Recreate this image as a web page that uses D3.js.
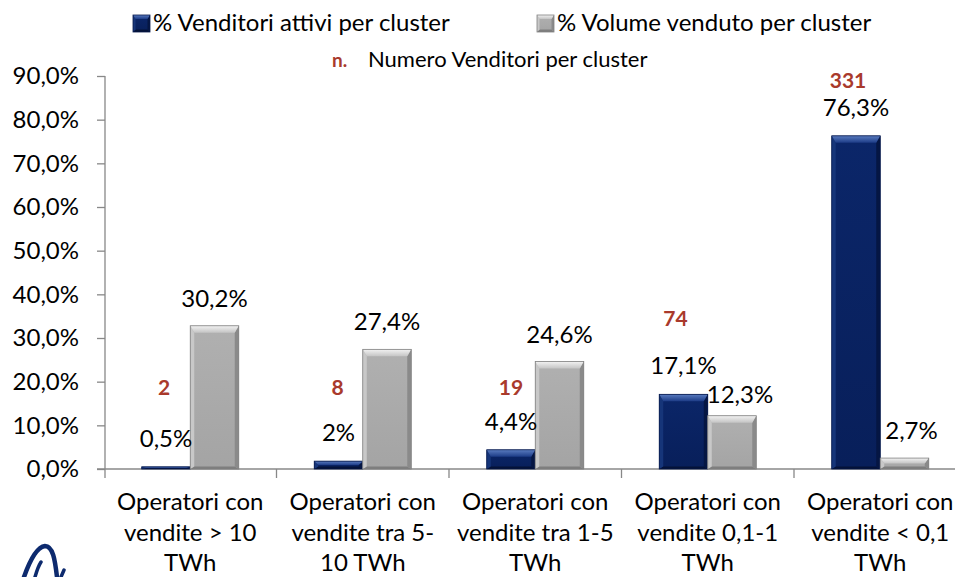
<!DOCTYPE html>
<html><head><meta charset="utf-8">
<script src="https://cdn.jsdelivr.net/npm/d3@7"></script>
<style>
html,body{margin:0;padding:0;background:#fff;}
svg{display:block;}
text{font-family:Lato, Carlito, Calibri, sans-serif;}
</style></head>
<body>
<svg id="chart" width="955" height="577"></svg>
<script>
// ---------- DATA ----------
const categoryLines = [
  ["Operatori con", "vendite > 10", "TWh"],
  ["Operatori con", "vendite tra 5-", "10 TWh"],
  ["Operatori con", "vendite tra 1-5", "TWh"],
  ["Operatori con", "vendite 0,1-1", "TWh"],
  ["Operatori con", "vendite < 0,1", "TWh"]
];
const seriesNames = ["% Venditori attivi per cluster", "% Volume venduto per cluster"];
const sellersShare = [0.5, 1.8, 4.4, 17.1, 76.3];      // bar heights (%)
const volumeShare  = [32.8, 27.4, 24.6, 12.2, 2.5];    // bar heights (%)
const sellersLabels = ["0,5%", "2%", "4,4%", "17,1%", "76,3%"];
const volumeLabels  = ["30,2%", "27,4%", "24,6%", "12,3%", "2,7%"];
const sellerCounts  = [2, 8, 19, 74, 331];
const yTicks = [0, 10, 20, 30, 40, 50, 60, 70, 80, 90];
const countNote = "Numero Venditori per cluster";

// ---------- LAYOUT ----------
const svg = d3.select("#chart");
const cats = categoryLines.map((d, i) => "c" + i);
const keys = ["sellers", "volume"];
const x0 = d3.scaleBand().domain(cats).range([104, 104 + 5 * 172.5]).paddingInner(0).paddingOuter(0);
const x1 = d3.scaleBand().domain(keys).range([0, x0.bandwidth()]).paddingInner(0).paddingOuter(0.778);
const y = d3.scaleLinear().domain([0, 90]).range([469, 76]);

const axisColor = "#888888";
const fmt = v => d3.format(".1f")(v).replace(".", ",") + "%";

// y axis
const yAxis = svg.append("g").attr("transform", "translate(105,0)")
  .call(d3.axisLeft(y).tickValues(yTicks).tickFormat(fmt).tickSize(8).tickPadding(18));
yAxis.select(".domain").attr("stroke", axisColor).attr("stroke-width", 1.3)
  .attr("d", `M0,${y(90)}V${y(0) + 9}`);
yAxis.selectAll(".tick line").attr("stroke", axisColor).attr("stroke-width", 1.3);
yAxis.selectAll(".tick text").attr("font-size", 24).attr("fill", "#000")
  .attr("font-family", "Lato, Carlito, Calibri, sans-serif");

// x axis (line + boundary ticks)
const xAxisG = svg.append("g");
xAxisG.append("line").attr("x1", 97).attr("x2", x0.range()[1])
  .attr("y1", y(0)).attr("y2", y(0)).attr("stroke", axisColor).attr("stroke-width", 1.3);
const bounds = cats.slice(1).map(c => x0(c));
xAxisG.selectAll("line.bt").data(bounds).enter().append("line").attr("class", "bt")
  .attr("x1", d => d).attr("x2", d => d).attr("y1", y(0)).attr("y2", y(0) + 9)
  .attr("stroke", axisColor).attr("stroke-width", 1.3);

// category labels
const catG = svg.append("g");
categoryLines.forEach((lines, i) => {
  const t = catG.append("text").attr("text-anchor", "middle").attr("font-size", 24).attr("fill", "#000");
  lines.forEach((ln, j) => {
    t.append("tspan").attr("x", x0(cats[i]) + x0.bandwidth() / 2).attr("y", 510 + j * 30.5).text(ln);
  });
});

// ---------- BEVEL BARS ----------
const defs = svg.append("defs");
function grad(id, c1, c2) {
  const g = defs.append("linearGradient").attr("id", id).attr("x1", 0).attr("y1", 0).attr("x2", 0).attr("y2", 1);
  g.append("stop").attr("offset", "0%").attr("stop-color", c1);
  g.append("stop").attr("offset", "100%").attr("stop-color", c2);
}
grad("gBlueTop", "#5A7CC0", "#1C3B86");
grad("gGrayTop", "#F2F2F2", "#C4C4C4");
grad("gBlueBody", "#0B2669", "#081F5A");
grad("gGrayBody", "#B0B0B0", "#A4A4A4");
const palettes = {
  sellers: { body: "url(#gBlueBody)", top: "url(#gBlueTop)", left: "#163579", right: "#051643", bottom: "#041238", edge: "#06184A" },
  volume:  { body: "url(#gGrayBody)", top: "url(#gGrayTop)", left: "#C8C8C8", right: "#8A8A8A", bottom: "#7E7E7E", edge: "#808080" }
};
function bevel(g, x, yT, w, h, pal, bTop, bSide) {
  if (h <= 0) return;
  const bt = Math.min(bTop, h / 2), bs = Math.min(bSide, w / 2), bb = Math.min(2.5, h / 3);
  const gg = g.append("g");
  gg.append("rect").attr("x", x).attr("y", yT).attr("width", w).attr("height", h).attr("fill", pal.body);
  const poly = (pts, f) => gg.append("polygon").attr("points", pts.map(p => p.join(",")).join(" ")).attr("fill", f);
  poly([[x, yT + h], [x + bs, yT + h - bb], [x + w - bs, yT + h - bb], [x + w, yT + h]], pal.bottom);
  poly([[x, yT], [x + bs, yT + bt], [x + bs, yT + h - bb], [x, yT + h]], pal.left);
  poly([[x + w, yT], [x + w, yT + h], [x + w - bs, yT + h - bb], [x + w - bs, yT + bt]], pal.right);
  poly([[x, yT], [x + w, yT], [x + w - bs, yT + bt], [x + bs, yT + bt]], pal.top);
  gg.append("rect").attr("x", x).attr("y", yT).attr("width", w).attr("height", h)
    .attr("fill", "none").attr("stroke", pal.edge).attr("stroke-width", 0.8);
}

const barsG = svg.append("g");
const rows = cats.map((c, i) => ({ c, i, sellers: sellersShare[i], volume: volumeShare[i] }));
rows.forEach(r => {
  keys.forEach(k => {
    const xx = x0(r.c) + x1(k);
    bevel(barsG, xx, y(r[k]), x1.bandwidth(), y(0) - y(r[k]), palettes[k], 7, 4);
  });
});

// value labels
const labG = svg.append("g").attr("font-size", 24).attr("fill", "#000").attr("text-anchor", "middle");
const volNudge = [[0, 0], [0, 0], [0, 0], [8, 6], [7, 0]];
rows.forEach(r => {
  labG.append("text").attr("x", x0(r.c) + x1("sellers") + x1.bandwidth() / 2)
    .attr("y", y(r.sellers) - 20).text(sellersLabels[r.i]);
  labG.append("text").attr("x", x0(r.c) + x1("volume") + x1.bandwidth() / 2 + volNudge[r.i][0])
    .attr("y", y(r.volume) - 19 + volNudge[r.i][1]).text(volumeLabels[r.i]);
});

// seller counts (red annotations)
const countColor = "#A93A2C";
const countLevel = [17, 17, 17, 32.8, 87.3];
const countDx = [-2, -1, 0, -8, -8];
const cntG = svg.append("g").attr("font-size", 21).attr("font-weight", "bold").attr("fill", countColor).attr("text-anchor", "middle");
rows.forEach(r => {
  cntG.append("text").attr("x", x0(r.c) + x1("sellers") + x1.bandwidth() / 2 + countDx[r.i])
    .attr("y", y(countLevel[r.i])).text(sellerCounts[r.i]);
});

// ---------- LEGEND ----------
const legG = svg.append("g");
const legX = [133, 537];
keys.forEach((k, i) => {
  bevel(legG, legX[i], 15, 17, 17, palettes[k], 4, 2.5);
  legG.append("text").attr("x", legX[i] + 20).attr("y", 31).attr("font-size", 24).attr("fill", "#000").text(seriesNames[i]);
});
legG.append("text").attr("x", 332).attr("y", 67).attr("font-size", 19).attr("font-weight", "bold").attr("fill", countColor).text("n.");
legG.append("text").attr("x", 368).attr("y", 67).attr("font-size", 22).attr("fill", "#000").text(countNote);

// ---------- LOGO FRAGMENT ----------
const logo = svg.append("g").attr("fill", "none").attr("stroke", "#0D2A6E").attr("stroke-linecap", "round");
logo.append("path").attr("d", "M24,577 C30,560 37,547 45,546 C53,546 55,560 57,577").attr("stroke-width", 4.5);
logo.append("path").attr("d", "M35,577 C37,570 39,565 41,562").attr("stroke-width", 3.5);
logo.append("path").attr("d", "M61,577 L64,570").attr("stroke-width", 3.5);
</script>
</body></html>
